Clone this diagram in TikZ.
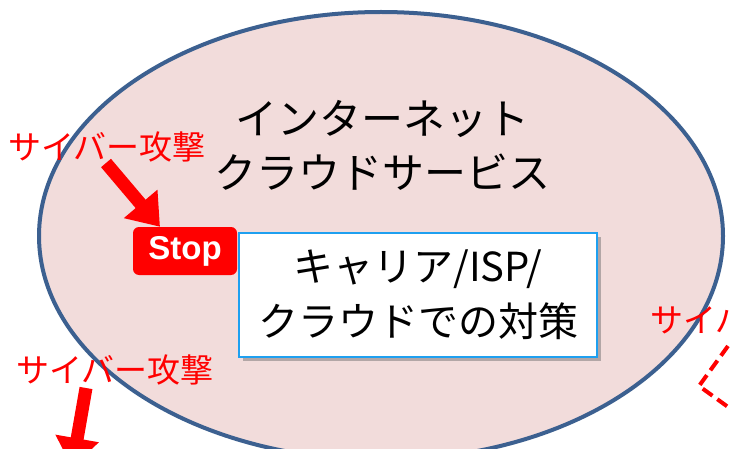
\documentclass[tikz,border=0pt]{standalone}
\usepackage{fontspec}
\newfontfamily\jp{Noto Sans CJK JP}
\newfontfamily\lsans{Liberation Sans}
\usetikzlibrary{arrows.meta,shadows,shapes.geometric}
\definecolor{ellfill}{HTML}{F2DCDB}
\definecolor{elldraw}{HTML}{3C6090}
\definecolor{boxblue}{HTML}{1EA0F0}
\definecolor{atk}{HTML}{FF0000}
\tikzset{
  attacktext/.style={text=atk,font=\jp\fontsize{33}{36}\selectfont,inner sep=0pt},
  blockarrow/.style={draw=atk,line width=13pt,-{Triangle[length=30pt,width=42pt]}},
  maintext/.style={font=\jp\fontsize{42}{54}\selectfont,align=center,inner sep=0pt},
}
\begin{document}
\begin{tikzpicture}[x=1pt,y=-1pt]
\useasboundingbox (0,0) rectangle (730,449);
\clip (0,0) rectangle (730,449);
\fill[white] (0,0) rectangle (730,449);
\node[ellipse,minimum width=684pt,minimum height=448pt,fill=ellfill,draw=elldraw,line width=4pt,inner sep=0pt] (ell) at (381,236) {};
\node[maintext] (title) at (382,145) {インターネット\\クラウドサービス};
\node[attacktext,anchor=west] (atk1) at (8,147) {サイバー攻撃};
\node[attacktext,anchor=west] (atk2) at (16,370) {サイバー攻撃};
\node[attacktext,anchor=west] (atk3) at (650,320) {サイバー攻撃};
\node[draw=boxblue,line width=2pt,fill=white,minimum width=358pt,minimum height=124pt,
  drop shadow={shadow xshift=4pt,shadow yshift=-4pt,opacity=0.45,fill=black!60},
  font=\jp\fontsize{40}{55}\selectfont,align=center,inner sep=0pt] (box) at (418,295)
  {キャリア/ISP/\\クラウドでの対策};
\node[fill=atk,rounded corners=6pt,minimum width=104pt,minimum height=48pt,inner sep=0pt,
  text=white,font=\lsans\bfseries\fontsize{33}{36}\selectfont] (stop) at (185,251) {Stop};
\coordinate (a1s) at (106,163);
\draw[blockarrow] (a1s) -- (stop.north -| 160,0);
\coordinate (a2s) at (86,388);
\coordinate (a2e) at (72,468);
\draw[blockarrow] (a2s) -- (a2e);
\draw[atk,line width=4pt,dash pattern=on 12pt off 6pt] (728,346) -- (699,386) -- (735,412);
\end{tikzpicture}
\end{document}
